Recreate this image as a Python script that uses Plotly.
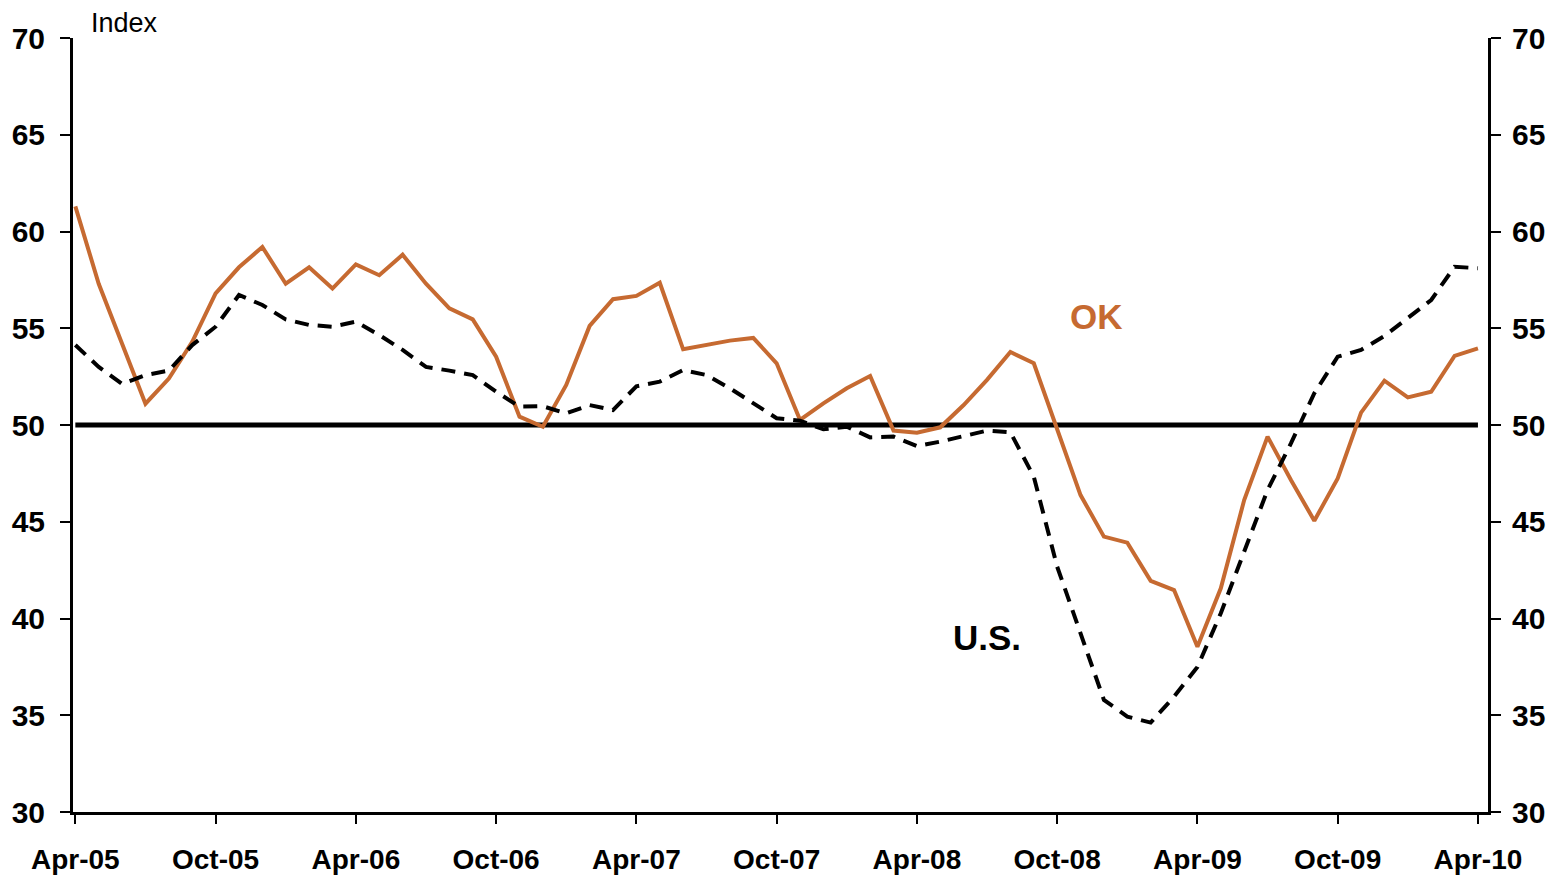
import plotly.graph_objects as go

months = [
    "Apr-05", "May-05", "Jun-05", "Jul-05", "Aug-05", "Sep-05", "Oct-05", "Nov-05", "Dec-05",
    "Jan-06", "Feb-06", "Mar-06", "Apr-06", "May-06", "Jun-06", "Jul-06", "Aug-06", "Sep-06",
    "Oct-06", "Nov-06", "Dec-06", "Jan-07", "Feb-07", "Mar-07", "Apr-07", "May-07", "Jun-07",
    "Jul-07", "Aug-07", "Sep-07", "Oct-07", "Nov-07", "Dec-07", "Jan-08", "Feb-08", "Mar-08",
    "Apr-08", "May-08", "Jun-08", "Jul-08", "Aug-08", "Sep-08", "Oct-08", "Nov-08", "Dec-08",
    "Jan-09", "Feb-09", "Mar-09", "Apr-09", "May-09", "Jun-09", "Jul-09", "Aug-09", "Sep-09",
    "Oct-09", "Nov-09", "Dec-09", "Jan-10", "Feb-10", "Mar-10", "Apr-10",
]

ok_index = [
    61.3, 57.3, 54.2, 51.1, 52.4, 54.3, 56.8, 58.15, 59.2, 57.3, 58.15, 57.05, 58.3, 57.74,
    58.8, 57.3, 56.03, 55.46, 53.53, 50.43, 49.91, 52.07, 55.12, 56.5, 56.67, 57.35, 53.91,
    54.15, 54.36, 54.5, 53.19, 50.26, 51.12, 51.9, 52.53, 49.71, 49.6, 49.88, 51.03, 52.33,
    53.77, 53.19, 49.74, 46.38, 44.23, 43.92, 41.95, 41.47, 38.54, 41.56, 46.12, 49.4, 47.16,
    45.05, 47.24, 50.64, 52.29, 51.43, 51.72, 53.57, 53.96,
]

us_index = [
    54.13, 53.0, 52.12, 52.58, 52.81, 54.13, 55.08, 56.72, 56.2, 55.46, 55.17, 55.08, 55.34,
    54.65, 53.88, 53.0, 52.81, 52.58, 51.72, 50.95, 50.97, 50.6, 51.03, 50.77, 52.0, 52.24,
    52.84, 52.58, 51.9, 51.12, 50.35, 50.22, 49.78, 49.91, 49.36, 49.4, 48.91, 49.14, 49.43,
    49.71, 49.62, 47.33, 42.68, 39.3, 35.79, 34.93, 34.62, 35.96, 37.5, 40.27, 43.45, 46.64,
    49.05, 51.64, 53.53, 53.88, 54.6, 55.51, 56.46, 58.18, 58.1,
]

threshold = [50] * len(months)

tick_labels = ["Apr-05", "Oct-05", "Apr-06", "Oct-06", "Apr-07", "Oct-07",
               "Apr-08", "Oct-08", "Apr-09", "Oct-09", "Apr-10"]
y_ticks = [30, 35, 40, 45, 50, 55, 60, 65, 70]

ORANGE = "#C66A31"
FONT = "Liberation Sans, Arial, sans-serif"

x = list(range(len(months)))
tick_pos = [months.index(t) for t in tick_labels]

fig = go.Figure()
fig.add_trace(go.Scatter(x=x, y=threshold, mode="lines",
                         line=dict(color="black", width=5), hoverinfo="skip"))
fig.add_trace(go.Scatter(x=x, y=ok_index, mode="lines", name="OK",
                         line=dict(color=ORANGE, width=4), text=months))
fig.add_trace(go.Scatter(x=x, y=us_index, mode="lines", name="U.S.",
                         line=dict(color="black", width=4, dash="14px,9px"), text=months))
# invisible trace to drive the right-hand axis
fig.add_trace(go.Scatter(x=[x[0]], y=[50], yaxis="y2", mode="markers",
                         marker=dict(opacity=0), hoverinfo="skip"))

axis_font = dict(family=FONT, size=30, color="black", weight="bold")


def y_axis(**extra):
    axis = dict(
        range=[30, 70],
        tickvals=y_ticks,
        ticks="outside",
        ticklen=10,
        tickwidth=2,
        tickcolor="black",
        showline=True,
        linecolor="black",
        linewidth=3,
        showgrid=False,
        zeroline=False,
        automargin=False,
        tickfont=axis_font,
    )
    axis.update(extra)
    return axis


# the page body adds an 8px margin, so the figure is sized a bit smaller
fig.update_layout(
    width=1548,
    height=870,
    margin=dict(l=65, r=68, t=30, b=66),
    paper_bgcolor="white",
    plot_bgcolor="white",
    showlegend=False,
    xaxis=dict(
        range=[-0.1, 60.43],
        tickvals=tick_pos,
        ticktext=tick_labels,
        ticks="outside",
        ticklen=9,
        tickwidth=2,
        tickcolor="black",
        showline=True,
        linecolor="black",
        linewidth=3,
        showgrid=False,
        zeroline=False,
        automargin=False,
        tickfont=dict(family=FONT, size=28, color="black", weight="bold"),
        ticklabelstandoff=11,
    ),
    yaxis=y_axis(ticklabelstandoff=9),
    yaxis2=y_axis(overlaying="y", side="right", ticklabelstandoff=5),
    annotations=[
        dict(text="Index", x=0.011, y=1.0, xref="paper", yref="paper",
             xanchor="left", yanchor="bottom", showarrow=False, yshift=-2,
             font=dict(family=FONT, size=27, color="black")),
        dict(text="<b>OK</b>", x=43.7, y=55.6, xref="x", yref="y",
             showarrow=False, font=dict(family=FONT, size=35, color=ORANGE)),
        dict(text="<b>U.S.</b>", x=39.0, y=39.0, xref="x", yref="y",
             showarrow=False, font=dict(family=FONT, size=35, color="black")),
    ],
)

fig.write_html("out.html")
